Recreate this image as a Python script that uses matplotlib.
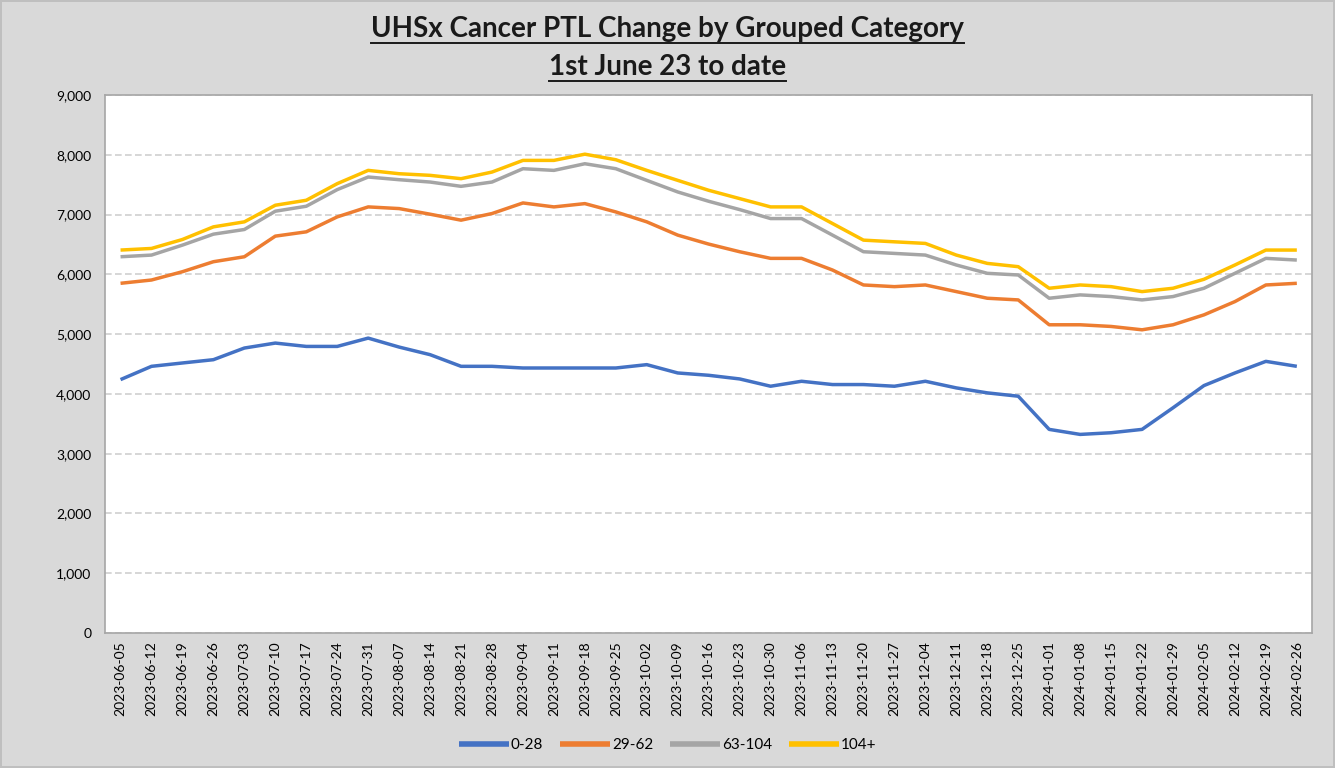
import matplotlib.pyplot as plt
from matplotlib.lines import Line2D
from matplotlib.ticker import FuncFormatter, MultipleLocator

weeks = ['2023-06-05', '2023-06-12', '2023-06-19', '2023-06-26', '2023-07-03',
         '2023-07-10', '2023-07-17', '2023-07-24', '2023-07-31', '2023-08-07',
         '2023-08-14', '2023-08-21', '2023-08-28', '2023-09-04', '2023-09-11',
         '2023-09-18', '2023-09-25', '2023-10-02', '2023-10-09', '2023-10-16',
         '2023-10-23', '2023-10-30', '2023-11-06', '2023-11-13', '2023-11-20',
         '2023-11-27', '2023-12-04', '2023-12-11', '2023-12-18', '2023-12-25',
         '2024-01-01', '2024-01-08', '2024-01-15', '2024-01-22', '2024-01-29',
         '2024-02-05', '2024-02-12', '2024-02-19', '2024-02-26']

d0_28 = [4239, 4461, 4517, 4572, 4767, 4850, 4794, 4794, 4933, 4783,
         4656, 4461, 4461, 4433, 4433, 4433, 4433, 4489, 4350, 4311,
         4250, 4128, 4211, 4156, 4156, 4128, 4211, 4100, 4017, 3961,
         3406, 3322, 3350, 3406, 3767, 4139, 4350, 4544, 4461]
d29_62 = [5850, 5905, 6044, 6211, 6294, 6639, 6711, 6961, 7128, 7100,
          7006, 6906, 7017, 7194, 7128, 7183, 7044, 6878, 6656, 6506,
          6378, 6267, 6267, 6072, 5822, 5794, 5822, 5711, 5600, 5572,
          5156, 5156, 5128, 5072, 5156, 5322, 5544, 5822, 5850]
d63_104 = [6294, 6322, 6489, 6672, 6750, 7056, 7139, 7417, 7628, 7583,
           7544, 7472, 7544, 7767, 7739, 7850, 7767, 7572, 7378, 7222,
           7083, 6933, 6933, 6656, 6378, 6350, 6322, 6156, 6017, 5989,
           5600, 5656, 5628, 5572, 5628, 5767, 6017, 6267, 6239]
d104 = [6406, 6433, 6583, 6794, 6878, 7156, 7239, 7517, 7739, 7683,
        7656, 7600, 7711, 7906, 7906, 8010, 7917, 7739, 7572, 7406,
        7267, 7128, 7128, 6850, 6572, 6544, 6517, 6322, 6183, 6128,
        5767, 5822, 5794, 5711, 5767, 5917, 6156, 6406, 6406]

series = [('0-28', d0_28, '#4472C4'), ('29-62', d29_62, '#ED7D31'),
          ('63-104', d63_104, '#A5A5A5'), ('104+', d104, '#FFC000')]

plt.rcParams['font.family'] = ['Lato', 'DejaVu Sans']

fig = plt.figure(figsize=(13.35, 7.68), dpi=100, facecolor='#d9d9d9',
                 edgecolor='#bfbfbf', linewidth=1.5)
ax = fig.add_axes([0.0787, 0.1758, 0.9043, 0.7005])
ax.set_facecolor('white')

x = list(range(len(weeks)))
for name, vals, col in series:
    ax.plot(x, vals, color=col, lw=2.5, label=name, solid_capstyle='butt')

ax.set_xlim(-0.5, len(weeks) - 0.5)
ax.set_ylim(0, 9000)
ax.yaxis.set_major_locator(MultipleLocator(1000))
ax.yaxis.set_major_formatter(FuncFormatter(lambda v, p: '{:,.0f}'.format(v)))
ax.set_xticks(x)
ax.set_xticklabels(weeks, rotation=90, fontsize=10)
ax.tick_params(axis='both', length=0, labelsize=10, colors='black')
ax.tick_params(axis='y', pad=10)
ax.tick_params(axis='x', pad=6)
ax.grid(axis='y', color='#d0d0d0', linestyle=(0, (4, 2)), lw=1.2)
ax.set_axisbelow(True)
for s in ax.spines.values():
    s.set_color('#a6a6a6')
    s.set_linewidth(1.2)

leg = fig.legend(loc='center', bbox_to_anchor=(0.5, 0.03), ncol=4,
                 frameon=False, fontsize=11, handlelength=3.3,
                 handletextpad=0.1, columnspacing=1.1)
for h in leg.get_lines():
    h.set_linewidth(4)

titles = [('UHSx Cancer PTL Change by Grouped Category', 0.962),
          ('1st June 23 to date', 0.913)]
fig.canvas.draw()
rend = fig.canvas.get_renderer()
for txt, yy in titles:
    t = fig.text(0.5, yy, txt, ha='center', va='center', fontsize=20,
                 fontweight='bold', color='#1a1a1a')
    bb = t.get_window_extent(renderer=rend)
    bf = bb.transformed(fig.transFigure.inverted())
    fig.add_artist(Line2D([bf.x0, bf.x1], [bf.y0 - 0.001, bf.y0 - 0.001],
                          transform=fig.transFigure, color='#1a1a1a', lw=1.4))

fig.savefig('out.png', dpi=100, facecolor=fig.get_facecolor(),
            edgecolor=fig.get_edgecolor())
